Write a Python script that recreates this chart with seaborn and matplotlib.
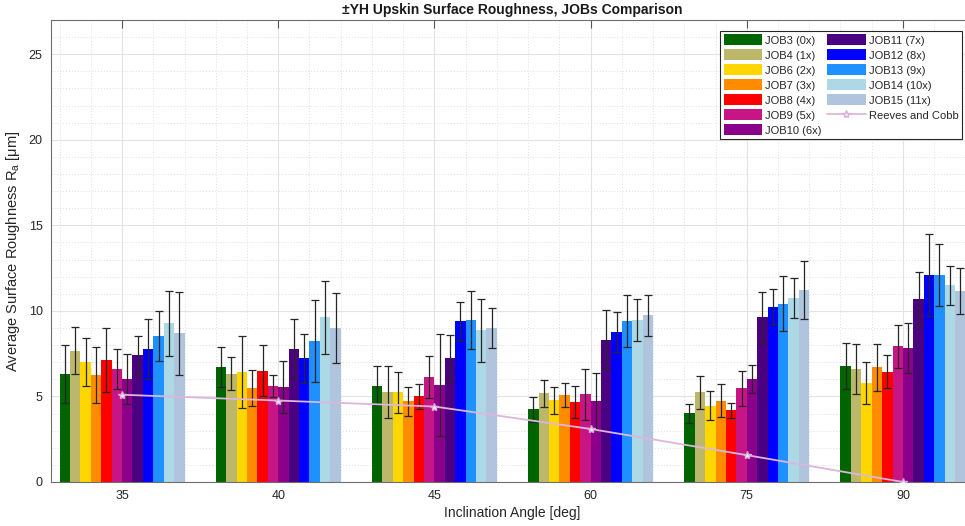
import matplotlib
matplotlib.use("Agg")
import matplotlib.pyplot as plt
from matplotlib.ticker import MultipleLocator
import numpy as np
import pandas as pd
import seaborn as sns

# Inclination angles (deg) and build jobs
angle_labels = ["35", "40", "45", "60", "75", "90"]
job_labels = ["JOB3 (0x)", "JOB4 (1x)", "JOB6 (2x)", "JOB7 (3x)", "JOB8 (4x)",
              "JOB9 (5x)", "JOB10 (6x)", "JOB11 (7x)", "JOB12 (8x)", "JOB13 (9x)",
              "JOB14 (10x)", "JOB15 (11x)"]
job_colors = ["#006400", "#BDB76B", "#FFD700", "#FF8C00", "#FF0000", "#C71585",
              "#8B008B", "#4B0082", "#0000FF", "#1E90FF", "#ADD8E6", "#B0C4DE"]

# Mean Ra [um] per angle, and the +/- spread drawn as error bars
job3_mean = [6.31, 6.73, 5.63, 4.24, 4.02, 6.78]
job3_err = [1.72, 1.17, 1.13, 0.74, 0.55, 1.37]
job4_mean = [7.67, 6.33, 5.25, 5.18, 5.25, 6.63]
job4_err = [1.38, 0.95, 1.51, 0.80, 0.96, 1.46]
job6_mean = [7.02, 6.43, 5.24, 4.78, 4.47, 5.80]
job6_err = [1.40, 2.13, 1.18, 0.78, 0.82, 1.24]
job7_mean = [6.27, 5.47, 4.71, 5.06, 4.75, 6.71]
job7_err = [1.63, 1.05, 0.86, 0.70, 0.96, 1.37]
job8_mean = [7.14, 6.51, 5.00, 4.67, 4.18, 6.45]
job8_err = [1.86, 1.47, 0.72, 0.95, 0.45, 0.97]
job9_mean = [6.61, 5.61, 6.14, 5.12, 5.47, 7.92]
job9_err = [1.18, 0.63, 1.24, 1.51, 1.03, 1.25]
job10_mean = [6.00, 5.57, 5.65, 4.73, 6.02, 7.84]
job10_err = [1.47, 1.52, 2.99, 1.62, 0.81, 1.47]
job11_mean = [7.45, 7.80, 7.25, 8.31, 9.63, 10.69]
job11_err = [1.11, 1.73, 1.35, 1.72, 1.48, 1.59]
job12_mean = [7.76, 7.22, 9.39, 8.76, 10.25, 12.10]
job12_err = [1.75, 1.42, 1.12, 1.19, 1.03, 2.38]
job13_mean = [8.53, 8.25, 9.49, 9.41, 10.43, 12.10]
job13_err = [1.48, 2.40, 1.70, 1.54, 1.59, 1.80]
job14_mean = [9.27, 9.63, 8.86, 9.47, 10.76, 11.49]
job14_err = [1.88, 2.14, 1.86, 1.22, 1.16, 1.16]
job15_mean = [8.69, 8.98, 9.00, 9.75, 11.24, 11.16]
job15_err = [2.41, 2.04, 1.15, 1.20, 1.70, 1.37]

# Reeves and Cobb reference curve
reeves_cobb = [5.10, 4.76, 4.41, 3.10, 1.57, 0.00]

means = [job3_mean, job4_mean, job6_mean, job7_mean, job8_mean, job9_mean,
         job10_mean, job11_mean, job12_mean, job13_mean, job14_mean, job15_mean]
errs = [job3_err, job4_err, job6_err, job7_err, job8_err, job9_err,
        job10_err, job11_err, job12_err, job13_err, job14_err, job15_err]

rows = []
for label, m, e in zip(job_labels, means, errs):
    for a, v, s in zip(angle_labels, m, e):
        rows.append({"angle": a, "job": label, "ra": v, "err": s})
df = pd.DataFrame(rows)

sns.set_theme(style="white")
plt.rcParams["font.family"] = ["Liberation Sans", "DejaVu Sans"]
plt.rcParams["mathtext.fontset"] = "custom"
plt.rcParams["mathtext.rm"] = "Liberation Sans"
plt.rcParams["mathtext.it"] = "Liberation Sans:italic"

fig = plt.figure(figsize=(9.65, 5.26), dpi=100)
ax = fig.add_axes([51 / 965, 1 - 482 / 526, 923 / 965, 462 / 526])

sns.barplot(data=df, x="angle", y="ra", hue="job", order=angle_labels,
            hue_order=job_labels, palette=job_colors, errorbar=None,
            width=0.8, gap=0, saturation=1, legend=False, ax=ax, zorder=2,
            linewidth=0)

bar_containers = list(ax.containers)
for cont, e in zip(bar_containers, errs):
    xs = [b.get_x() + b.get_width() / 2 for b in cont]
    ys = [b.get_height() for b in cont]
    ax.errorbar(xs, ys, yerr=e, fmt="none", ecolor="#262626", elinewidth=0.9,
                capsize=3.2, capthick=0.9, zorder=4)

sns.pointplot(x=angle_labels, y=reeves_cobb, order=angle_labels, color="#DDB6DD",
              markers="*", linestyles="-", errorbar=None, ax=ax,
              markersize=6, linewidth=1.3, zorder=5)
reeves_line = ax.lines[-1]
reeves_line.set_markerfacecolor("#F4E6F4")
reeves_line.set_markeredgecolor("#D9B0D9")

ax.set_xlim(-0.455, 5.455)
ax.set_ylim(0, 27)
ax.set_yticks([0, 5, 10, 15, 20, 25])
ax.set_xticks(range(len(angle_labels)))
ax.set_xticklabels(angle_labels)
ax.xaxis.set_minor_locator(MultipleLocator(0.2))
ax.yaxis.set_minor_locator(MultipleLocator(1))

ax.set_axisbelow(True)
ax.grid(True, which="major", color="#e3e3e3", linewidth=0.8, linestyle="-")
ax.grid(True, which="minor", color="#dedede", linewidth=0.7, linestyle=(0, (1, 2)))

ax.tick_params(which="major", direction="in", length=6, width=0.8,
               color="#555555", labelsize=9, labelcolor="#262626",
               top=True, right=True, pad=6)
ax.tick_params(which="minor", length=0)
for s in ax.spines.values():
    s.set_color("#6e6e6e")
    s.set_linewidth(0.8)

ax.set_xlabel("Inclination Angle [deg]", fontsize=10, color="#262626", labelpad=3)
ax.set_ylabel("Average Surface Roughness R$_\\mathregular{a}$ [μm]", fontsize=10.5,
              color="#262626", labelpad=5)
ax.set_title("±YH Upskin Surface Roughness, JOBs Comparison", fontsize=10,
             fontweight="bold", color="#1a1a1a", pad=4,
             family=["Liberation Sans Narrow", "Liberation Sans", "DejaVu Sans"])

handles = [c.patches[0] for c in bar_containers] + [reeves_line]
labels = job_labels + ["Reeves and Cobb"]
leg = ax.legend(handles, labels, ncol=2, loc="upper right",
                bbox_to_anchor=(0.987, 0.976), fontsize=8, frameon=True,
                fancybox=False, framealpha=1, edgecolor="#262626",
                handlelength=3.45, handleheight=1.1, handletextpad=0.3,
                labelspacing=0.35, columnspacing=0.5, borderpad=0.3,
                borderaxespad=0)
leg.get_frame().set_linewidth(0.8)

fig.savefig("out.png", dpi=100)
